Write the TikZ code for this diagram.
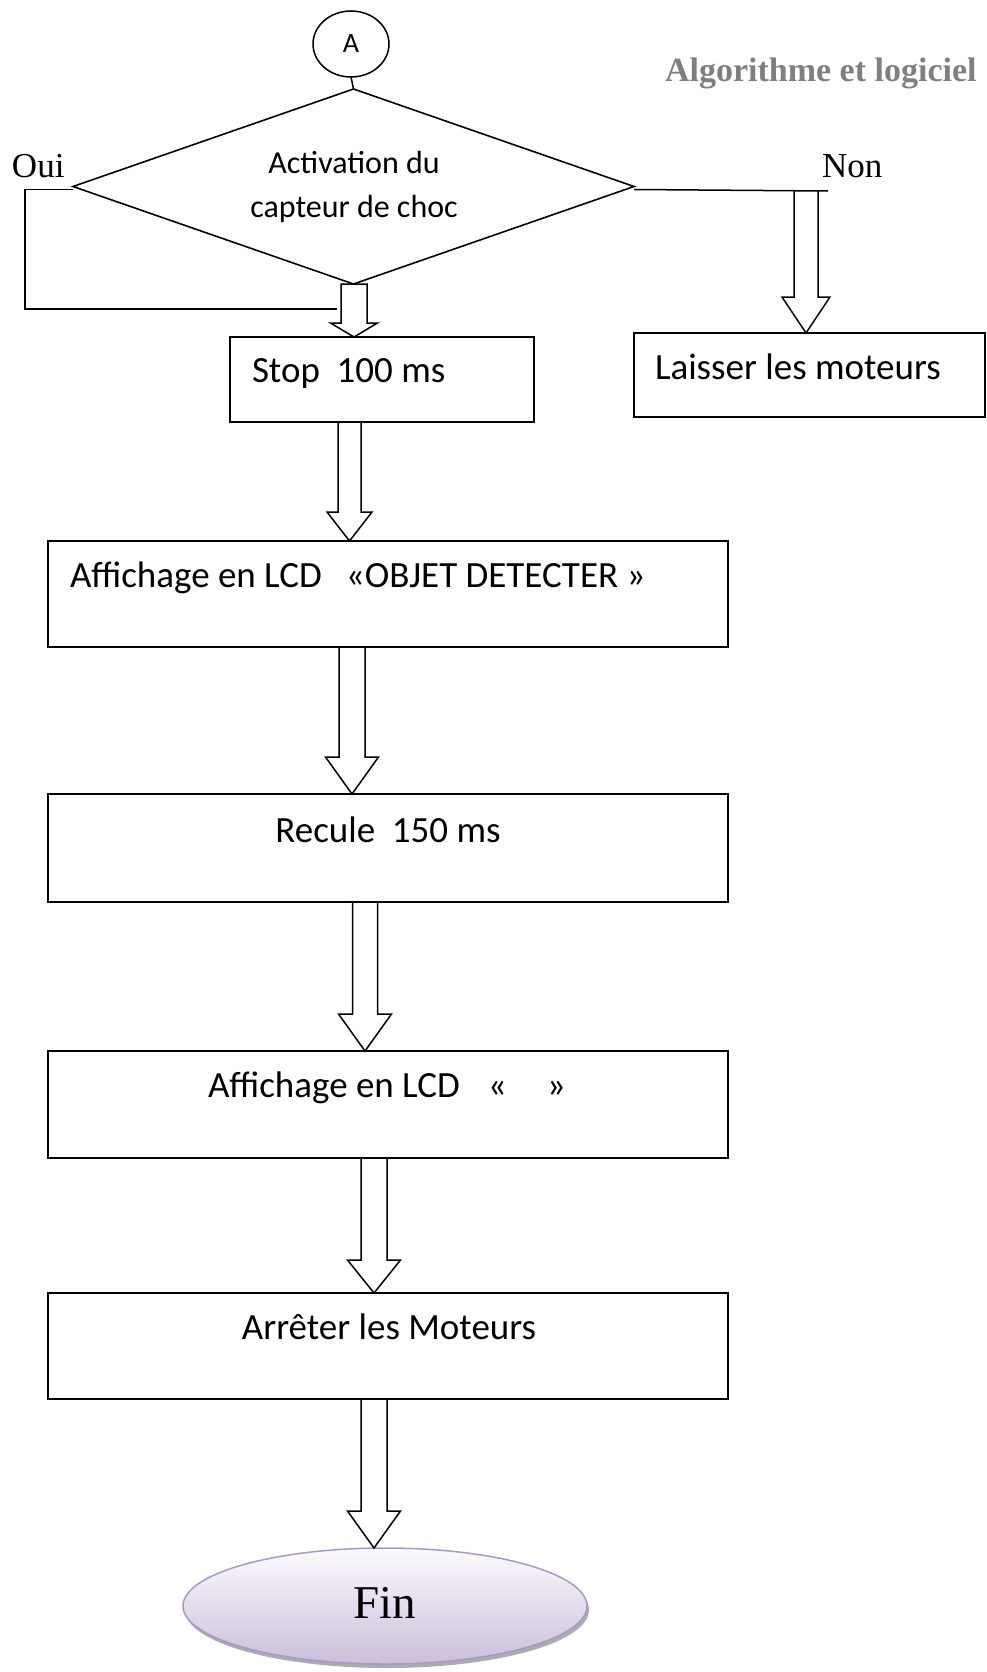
\documentclass[tikz,border=0pt]{standalone}
\usepackage{fontspec}
\usetikzlibrary{shapes.geometric,calc,shadows}
\newfontfamily\bodyfont{Carlito}
\newfontfamily\romfont{Liberation Serif}
\definecolor{headgray}{RGB}{127,127,127}
\definecolor{finedge}{RGB}{168,152,200}
\definecolor{finbottom}{RGB}{203,190,218}
\definecolor{fintop}{RGB}{252,251,253}

% hollow block arrow: #1 start point, #2 tip point, #3 x of the axis,
% #4 half shaft width, #5 half head width, #6 head length
\newcommand\hollowarrow[6]{%
  \draw[hollow] let \p1=(#1), \p2=(#2) in
    (#3pt-#4pt,\y1) -- (#3pt-#4pt,\y2+#6pt) -- (#3pt-#5pt,\y2+#6pt) -- (#3pt,\y2)
    -- (#3pt+#5pt,\y2+#6pt) -- (#3pt+#4pt,\y2+#6pt) -- (#3pt+#4pt,\y1) -- cycle;}

\begin{document}
\begin{tikzpicture}[x=1pt,y=-1pt,
  every node/.style={inner sep=0pt, outer sep=0pt},
  line/.style={draw=black, line width=1.5pt},
  box/.style={draw=black, line width=1.6pt, rectangle},
  boxtext/.style={font=\bodyfont\fontsize{37}{44}\selectfont},
  dtext/.style={font=\bodyfont\fontsize{32}{44}\selectfont, anchor=base},
  yesno/.style={font=\romfont\fontsize{35}{40}\selectfont, anchor=base west},
  hollow/.style={draw=black, line width=1.5pt, fill=white, line join=miter}]

\useasboundingbox (0,0) rectangle (987,1672);

% header
\node[font=\romfont\bfseries\fontsize{34}{40}\selectfont, text=headgray, anchor=base west] (head) at (665,82) {Algorithme et logiciel};

% connector circle and decision
\node[ellipse, draw, line width=1.5pt, minimum width=76pt, minimum height=66pt,
      font=\bodyfont\fontsize{28}{32}\selectfont] (circA) at (351,44) {A};
\node[diamond, draw, line width=1.6pt, minimum width=561pt, minimum height=195pt] (dia) at (353.5,186.5) {};
\node[dtext] (diaT1) at (354,174) {Activation du};
\node[dtext] (diaT2) at (354,218) {capteur de choc};
\draw[line] (circA.south) -- (dia.north);

\node[yesno] (oui) at (12,178) {Oui};
\node[yesno] (non) at (822,178) {Non};

% process boxes
\node[box, minimum width=304pt, minimum height=85pt] (stop) at (382,379.5) {};
\node[box, minimum width=351pt, minimum height=84pt] (lais) at (809.5,375) {};
\node[box, minimum width=680pt, minimum height=106pt] (aff1) at (388,594) {};
\node[box, minimum width=680pt, minimum height=108pt] (rec) at (388,848) {};
\node[box, minimum width=680pt, minimum height=107pt] (aff2) at (388,1104.5) {};
\node[box, minimum width=680pt, minimum height=106pt] (arr) at (388,1346) {};

\node[boxtext, anchor=base west] (stopT) at (252,382) {Stop\ \ 100 ms};
\node[boxtext, anchor=base west] (laisT) at (655,379) {Laisser les moteurs};
\node[boxtext, anchor=base west] (aff1T) at (70,587) {Affichage en LCD\hspace{24pt}«OBJET DETECTER »};
\node[boxtext, anchor=base] (recT) at (388,842) {Recule\ \ 150 ms};
\node[boxtext, anchor=base west] (aff2T) at (208,1097) {Affichage en LCD\hspace{28pt}«\hspace{40pt}»};
\node[boxtext, anchor=base] (arrT) at (389,1339) {Arrêter les Moteurs};

% terminal
\node[ellipse, draw=finedge, line width=1.5pt, top color=fintop, bottom color=finbottom,
      minimum width=404pt, minimum height=116pt,
      drop shadow={shadow xshift=2pt, shadow yshift=-4pt, fill=gray!65, opacity=1}] (fin) at (385,1606) {};
\node[font=\romfont\fontsize{47}{50}\selectfont, anchor=base] (finT) at (385,1618) {Fin};

% branch lines
\coordinate (ouiTurn) at (25,309);
\coordinate (ouiEnd) at (337,309);
\coordinate (nonEnd) at (828,191);
\coordinate (nonTop) at (806,191);
\draw[line] ([yshift=-3pt]dia.west) -| (ouiTurn) -- (ouiEnd);
\draw[line] ([yshift=-3pt]dia.east) -- (nonEnd);

% flow arrows
\hollowarrow{dia.south}{stop.north}{354}{13}{23.5}{14}
\hollowarrow{nonTop}{lais.north}{806}{12}{24}{36}
\hollowarrow{stop.south}{aff1.north}{349.5}{11.5}{22.5}{29}
\hollowarrow{aff1.south}{rec.north}{352}{13}{26.5}{37}
\hollowarrow{rec.south}{aff2.north}{365}{12.5}{26.5}{37}
\hollowarrow{aff2.south}{arr.north}{374}{13}{26.5}{33}
\hollowarrow{arr.south}{fin.north}{374}{13}{26.5}{37}
\end{tikzpicture}
\end{document}
